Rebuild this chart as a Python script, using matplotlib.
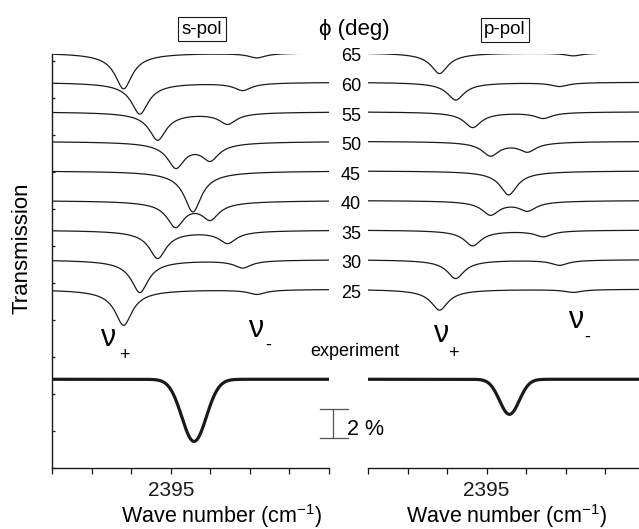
import numpy as np
import matplotlib
matplotlib.use("Agg")
import matplotlib.pyplot as plt
from matplotlib.transforms import blended_transform_factory

plt.rcParams["font.family"] = ["Liberation Sans", "DejaVu Sans"]
plt.rcParams["mathtext.fontset"] = "custom"
plt.rcParams["mathtext.rm"] = "Liberation Sans"
plt.rcParams["mathtext.it"] = "Liberation Sans:italic"
plt.rcParams["mathtext.bf"] = "Liberation Sans:bold"

# ---- data -------------------------------------------------------------
angles = [65, 60, 55, 50, 45, 40, 35, 30, 25]            # phi (deg)
offsets = [28.1, 26.1, 24.1, 22.1, 20.1, 18.1, 16.1, 14.1, 12.1]  # curve level (%)

# s-polarisation: mode positions (cm^-1) and depths (%)
s_nu_plus = [2393.81, 2394.22, 2394.67, 2395.13, 2395.56, 2395.12, 2394.67, 2394.22, 2393.81]
s_dep_plus = [2.45, 2.15, 1.90, 1.70, 2.78, 1.70, 1.90, 2.22, 2.45]
s_nu_minus = [2397.18, 2396.82, 2396.44, 2396.00, 2395.56, 2396.00, 2396.44, 2396.82, 2397.18]
s_dep_minus = [0.32, 0.52, 0.78, 1.15, 0.00, 1.15, 0.84, 0.52, 0.32]

# p-polarisation
p_nu_plus = [2393.81, 2394.22, 2394.65, 2395.10, 2395.56, 2395.10, 2394.65, 2394.22, 2393.81]
p_dep_plus = [1.42, 1.21, 1.06, 0.94, 1.63, 0.94, 1.06, 1.28, 1.42]
p_nu_minus = [2397.20, 2396.85, 2396.44, 2396.04, 2395.56, 2396.04, 2396.44, 2396.85, 2397.20]
p_dep_minus = [0.20, 0.27, 0.42, 0.64, 0.00, 0.64, 0.42, 0.36, 0.20]

sim_width = 0.23                      # line-shape width (cm^-1)

# measured spectra: level, band centre, depth, width
exp_level = 6.0
exp_s = (2395.59, 4.2, 0.31)
exp_p = (2395.58, 2.37, 0.25)

xlim_s = (2392.0, 2399.0)
xlim_p = (2392.0, 2398.86)
ylim = (0.0, 28.0)


def sim_band(x, centre, depth, w):
    return depth * (1.0 + ((x - centre) / w) ** 2) ** -0.75


def exp_band(x, centre, depth, w):
    return depth * np.exp(-0.5 * ((x - centre) / w) ** 2)


# ---- figure -------------------------------------------------------------
W, H = 639, 529
fig = plt.figure(figsize=(W / 100, H / 100), dpi=100)


def fx(px):
    return px / W


def fy(py):
    return 1 - py / H


ax_s = fig.add_axes([fx(52), fy(468), fx(329) - fx(52), fy(54) - fy(468)])
ax_p = fig.add_axes([fx(368), fy(468), fx(639) - fx(368), fy(54) - fy(468)])

for ax, xl, npos, ndep, mpos, mdep, ex in [
    (ax_s, xlim_s, s_nu_plus, s_dep_plus, s_nu_minus, s_dep_minus, exp_s),
    (ax_p, xlim_p, p_nu_plus, p_dep_plus, p_nu_minus, p_dep_minus, exp_p),
]:
    ax.patch.set_visible(False)
    x = np.linspace(xl[0], xl[1], 800)
    for k in range(len(angles)):
        y = (offsets[k]
             - sim_band(x, npos[k], ndep[k], sim_width)
             - sim_band(x, mpos[k], mdep[k], sim_width))
        ax.plot(x, y, color="#1a1a1a", lw=0.9)
    ye = exp_level - exp_band(x, *ex)
    ax.plot(x, ye, color="#1a1a1a", lw=2.3, solid_capstyle="butt")

    ax.set_xlim(*xl)
    ax.set_ylim(*ylim)
    ticks = np.arange(2392, int(xl[1]) + 1)
    ax.set_xticks(ticks)
    ax.set_xticklabels(["2395" if t == 2395 else "" for t in ticks], fontsize=15)
    ax.tick_params(axis="x", direction="out", length=4, width=0.9, pad=5,
                   colors="#1a1a1a")
    for side in ("top", "right"):
        ax.spines[side].set_visible(False)
    ax.spines["bottom"].set_linewidth(1.0)
    ax.spines["bottom"].set_color("#1a1a1a")

ax_s.set_yticks(np.arange(0, 28.0, 2.5))
ax_s.set_yticklabels([])
ax_s.tick_params(axis="y", direction="in", length=2, width=0.9, colors="#1a1a1a")
ax_s.spines["left"].set_linewidth(1.0)
ax_s.spines["left"].set_color("#1a1a1a")
ax_p.spines["left"].set_visible(False)
ax_p.set_yticks([])

# ---- annotations ------------------------------------------------------
fig.text(fx(22), fy(248), "Transmission", rotation=90, fontsize=16,
         ha="center", va="center")
fig.text(fx(222), fy(523), "Wave number (cm$^{-1}$)", fontsize=15.5,
         ha="center", va="baseline")
fig.text(fx(507), fy(523), "Wave number (cm$^{-1}$)", fontsize=15.5,
         ha="center", va="baseline")

box = dict(boxstyle="square,pad=0.18", fc="white", ec="#1a1a1a", lw=0.8)
fig.text(fx(202), fy(29), "s-pol", fontsize=13.5, ha="center", va="center", bbox=box)
fig.text(fx(505), fy(30), "p-pol", fontsize=13.5, ha="center", va="center", bbox=box)
fig.text(fx(354), fy(29), "\u03d5 (deg)", fontsize=16, ha="center", va="center")

lab_tr = blended_transform_factory(fig.transFigure, ax_s.transData)
for ang, off in zip(angles, offsets):
    fig.text(fx(351), off - 0.3, str(ang), fontsize=13, ha="center",
             va="center", transform=lab_tr)

fig.text(fx(355), fy(351), "experiment", fontsize=13, ha="center", va="center")

nu_labels = [(108, 338, 124, 356, "+"), (256, 329, 268, 345, "-"),
             (441, 334, 453, 353, "+"), (576, 320, 587, 337, "-")]
for xn, yn, xs, ys, sub in nu_labels:
    fig.text(fx(xn), fy(yn), "\u03bd", fontsize=22, ha="center", va="center")
    fig.text(fx(xs), fy(ys), sub, fontsize=13, ha="center", va="center")

# 2 % scale bar, in data units of the left panel
bar_x = 2399.1
ax_s.plot([bar_x, bar_x], [2.0, 4.0], color="#555555", lw=0.9, clip_on=False)
ax_s.plot([bar_x - 0.33, bar_x + 0.37], [2.0, 2.0], color="#555555", lw=0.9,
          clip_on=False)
ax_s.plot([bar_x - 0.33, bar_x + 0.37], [4.0, 4.0], color="#555555", lw=0.9,
          clip_on=False)
ax_s.text(bar_x + 0.36, 2.6, "2 %", fontsize=15.5, ha="left", va="center",
          clip_on=False)

fig.savefig("out.png", dpi=100)
